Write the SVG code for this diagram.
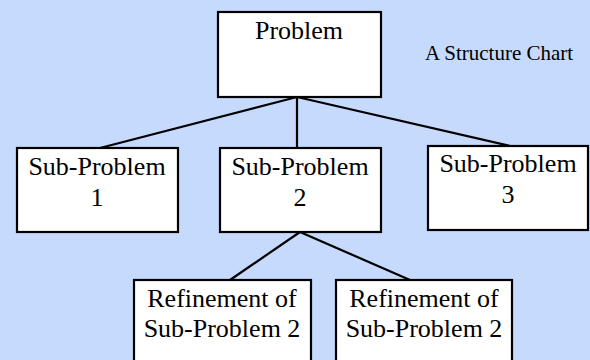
<svg xmlns="http://www.w3.org/2000/svg" width="590" height="360" viewBox="0 0 590 360">
<style>
.box{fill:#fff;stroke:#000;stroke-width:2.2}
.t{font-family:"Liberation Serif",serif;font-size:26px;fill:#000;text-anchor:middle}
.c{stroke:#000;stroke-width:2.2;fill:none}
</style>
<rect x="0" y="0" width="590" height="360" fill="#C5DAFC"/>
<g id="connectors">
<line class="c" x1="297" y1="97" x2="100" y2="148"/>
<line class="c" x1="297" y1="97" x2="297" y2="148"/>
<line class="c" x1="297" y1="97" x2="510" y2="146"/>
<line class="c" x1="300" y1="232" x2="230" y2="280"/>
<line class="c" x1="300" y1="232" x2="410" y2="280"/>
</g>
<g id="problem">
<rect class="box" x="218" y="12" width="163" height="85"/>
<text class="t" x="299" y="39">Problem</text>
</g>
<g id="sub1">
<rect class="box" x="17" y="148" width="161" height="84"/>
<text class="t" x="97" y="175">Sub-Problem</text>
<text class="t" x="97" y="206">1</text>
</g>
<g id="sub2">
<rect class="box" x="220" y="148" width="161" height="84"/>
<text class="t" x="300" y="175">Sub-Problem</text>
<text class="t" x="300" y="206">2</text>
</g>
<g id="sub3">
<rect class="box" x="428" y="146" width="160" height="84"/>
<text class="t" x="508" y="172">Sub-Problem</text>
<text class="t" x="508" y="203">3</text>
</g>
<g id="ref1">
<rect class="box" x="134" y="280" width="177" height="90"/>
<text class="t" x="222" y="307">Refinement of</text>
<text class="t" x="222" y="337">Sub-Problem 2</text>
</g>
<g id="ref2">
<rect class="box" x="336" y="280" width="176" height="90"/>
<text class="t" x="424" y="307">Refinement of</text>
<text class="t" x="424" y="337">Sub-Problem 2</text>
</g>
<g id="title">
<text x="425" y="60" font-family="Liberation Serif, serif" font-size="21" fill="#000">A Structure Chart</text>
</g>
</svg>
